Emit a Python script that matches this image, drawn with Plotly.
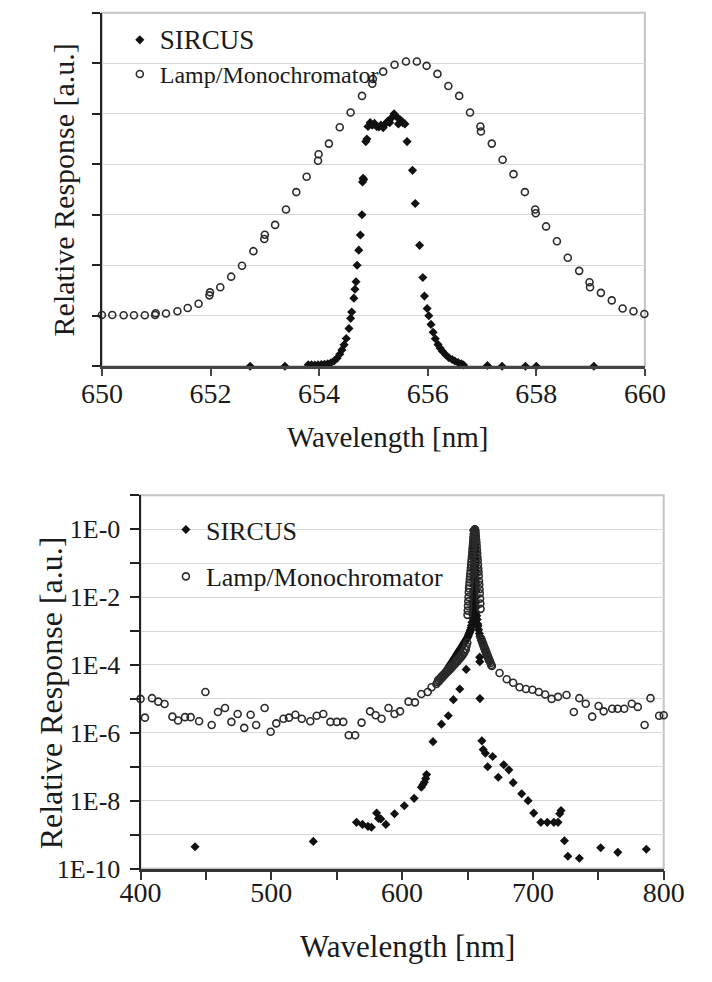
import plotly.graph_objects as go

SERIF = "Liberation Serif, 'Times New Roman', Times, serif"
INK = "#1a1a1a"

# ---------------- upper panel: 650-660 nm, linear response ----------------
top_sircus_nm = [
    652.73, 653.37, 653.80, 653.86, 653.92, 653.98, 654.04, 654.10, 654.16, 654.22,
    654.28, 654.33, 654.38, 654.42, 654.46, 654.50, 654.55, 654.58, 654.60, 654.64,
    654.66, 654.68, 654.70, 654.73, 654.76, 654.79, 654.80, 654.81, 654.82, 654.86,
    654.88, 654.90, 654.94, 654.98, 655.02, 655.06, 655.10, 655.14, 655.18, 655.22,
    655.26, 655.30, 655.34, 655.38, 655.42, 655.46, 655.50, 655.54, 655.58, 655.62,
    655.72, 655.77, 655.85, 655.91, 655.94, 655.99, 656.02, 656.06, 656.10, 656.14,
    656.19, 656.23, 656.27, 656.33, 656.39, 656.45, 656.50, 656.56, 656.62, 656.66,
    657.10, 657.37, 657.80, 658.00, 659.06,
]
top_sircus_val = [
    0.000, 0.000, 0.006, 0.006, 0.005, 0.006, 0.007, 0.008, 0.010, 0.014,
    0.022, 0.032, 0.048, 0.065, 0.085, 0.110, 0.150, 0.190, 0.215, 0.270,
    0.305, 0.335, 0.400, 0.460, 0.520, 0.600, 0.730, 0.745, 0.740, 0.890,
    0.900, 0.950, 0.965, 0.955, 0.962, 0.950, 0.948, 0.955, 0.945, 0.960,
    0.970, 0.965, 0.985, 1.000, 0.990, 0.960, 0.975, 0.965, 0.960, 0.890,
    0.776, 0.645, 0.479, 0.352, 0.278, 0.229, 0.200, 0.166, 0.135, 0.109,
    0.086, 0.072, 0.060, 0.046, 0.034, 0.027, 0.021, 0.015, 0.010, 0.005,
    0.003, 0.000, 0.000, 0.000, 0.000,
]

top_lamp_nm = [
    650.00, 650.19, 650.40, 650.59, 650.79, 650.98, 650.99, 651.18, 651.39, 651.58,
    651.78, 651.98, 651.99, 652.18, 652.38, 652.58, 652.79, 652.99, 653.00, 653.19,
    653.39, 653.58, 653.77, 653.98, 653.99, 654.18, 654.38, 654.58, 654.79, 654.98,
    654.99, 655.18, 655.39, 655.60, 655.80, 655.98, 656.18, 656.38, 656.58, 656.78,
    656.97, 656.98, 657.18, 657.38, 657.58, 657.79, 657.98, 657.99, 658.18, 658.38,
    658.58, 658.79, 658.98, 658.99, 659.19, 659.39, 659.59, 659.79, 659.99,
]
top_lamp_val = [
    0.203, 0.203, 0.202, 0.202, 0.202, 0.203, 0.210, 0.209, 0.218, 0.231,
    0.248, 0.281, 0.293, 0.313, 0.355, 0.398, 0.456, 0.504, 0.521, 0.560,
    0.621, 0.690, 0.751, 0.814, 0.840, 0.882, 0.947, 1.005, 1.071, 1.119,
    1.138, 1.167, 1.194, 1.207, 1.207, 1.190, 1.158, 1.110, 1.071, 1.005,
    0.950, 0.930, 0.882, 0.818, 0.761, 0.690, 0.621, 0.606, 0.554, 0.495,
    0.430, 0.378, 0.333, 0.313, 0.291, 0.261, 0.229, 0.218, 0.207,
]

top_x_ticks = [650, 652, 654, 656, 658, 660]
top_y_ticks = [0.0, 0.2, 0.4, 0.6, 0.8, 1.0, 1.2, 1.4]

# ---------------- lower panel: 400-800 nm, log response ----------------
bot_sircus_nm = [
    441.7, 532.1, 565.1, 569.7, 573.9, 576.5, 580.5, 582.0, 583.7, 587.6,
    594.2, 601.7, 609.2, 614.7, 616.0, 617.0, 618.0, 618.7, 623.6, 630.1,
    635.3, 639.2, 644.1, 649.0,
    # dense scan across the line
    630.0, 630.5, 631.0, 631.5, 632.0, 632.5, 633.0, 633.5, 634.0, 634.5,
    635.0, 635.5, 636.0, 636.5, 637.0, 637.5, 638.0, 638.5, 639.0, 639.5,
    640.0, 640.5, 641.0, 641.5, 642.0, 642.5, 643.0, 643.5, 644.0, 644.5,
    645.0, 645.5, 646.0, 646.5, 647.0, 647.5, 648.0, 648.5, 649.0, 649.5,
    650.0, 650.4, 650.8, 651.2, 651.6, 652.0, 652.4, 652.7, 653.0, 653.4,
    653.8, 653.86, 653.92, 653.98, 654.04, 654.10, 654.16, 654.22, 654.28, 654.33,
    654.38, 654.42, 654.46, 654.50, 654.55, 654.58, 654.60, 654.64, 654.66, 654.68,
    654.70, 654.73, 654.76, 654.79, 654.80, 654.82, 654.86, 654.88, 654.94, 655.02,
    655.10, 655.18, 655.26, 655.34, 655.38, 655.46, 655.54, 655.62, 655.72, 655.77,
    655.85, 655.91, 655.94, 655.99, 656.02, 656.06, 656.10, 656.14, 656.19, 656.23,
    656.27, 656.33, 656.39, 656.45, 656.50, 656.56, 656.62, 656.66, 656.7, 656.9,
    657.1, 657.4, 657.8, 658.0, 658.5, 659.06, 659.5, 660.0, 660.5, 661.0,
    661.5, 662.0, 662.5, 663.0, 663.5, 664.0, 664.5, 665.0, 665.5, 666.0,
    666.5, 667.0,
    659.3, 659.4, 659.5,
    661.0, 662.0, 663.7, 665.4, 669.2, 673.5, 677.7, 681.6, 684.9, 691.4,
    696.3, 700.6, 706.1, 711.0, 716.0, 719.2, 720.5, 721.5, 724.1, 726.7,
    735.5, 751.8, 764.9, 786.7,
]
bot_sircus_val = [
    4.4e-10, 6.3e-10, 2.3e-9, 2.0e-9, 1.75e-9, 1.65e-9, 4.3e-9, 3.0e-9, 2.9e-9, 2.0e-9,
    4.1e-9, 7.1e-9, 1.17e-8, 2.5e-8, 3.0e-8, 3.5e-8, 4.5e-8, 5.9e-8, 5.5e-7, 1.8e-6,
    3.2e-6, 9.5e-6, 1.95e-5, 7.4e-5,
    4.0e-5, 4.3e-5, 4.6e-5, 4.9e-5, 5.3e-5, 5.6e-5, 6.0e-5, 6.4e-5, 6.9e-5, 7.4e-5,
    7.9e-5, 8.5e-5, 9.1e-5, 9.8e-5, 1.05e-4, 1.12e-4, 1.2e-4, 1.29e-4, 1.38e-4, 1.48e-4,
    1.58e-4, 1.7e-4, 1.82e-4, 1.95e-4, 2.09e-4, 2.24e-4, 2.4e-4, 2.57e-4, 2.75e-4, 2.95e-4,
    3.16e-4, 3.4e-4, 3.65e-4, 3.9e-4, 4.2e-4, 4.5e-4, 4.8e-4, 5.2e-4, 5.6e-4, 6.0e-4,
    6.5e-4, 7.0e-4, 7.6e-4, 8.3e-4, 9.0e-4, 1.0e-3, 1.1e-3, 1.25e-3, 1.45e-3, 1.8e-3,
    2.4e-3, 3.0e-3, 3.6e-3, 4.3e-3, 5.2e-3, 6.3e-3, 7.6e-3, 1.0e-2, 1.5e-2, 2.2e-2,
    3.3e-2, 4.8e-2, 6.5e-2, 8.5e-2, 1.1e-1, 1.5e-1, 1.9e-1, 2.15e-1, 2.7e-1, 3.05e-1,
    3.35e-1, 4.0e-1, 4.6e-1, 5.2e-1, 6.0e-1, 7.4e-1, 8.9e-1, 9.0e-1, 9.65e-1, 9.6e-1,
    9.5e-1, 9.45e-1, 9.7e-1, 9.85e-1, 1.0, 9.6e-1, 9.65e-1, 8.9e-1, 7.76e-1, 6.45e-1,
    4.8e-1, 3.5e-1, 2.8e-1, 2.3e-1, 2.0e-1, 1.66e-1, 1.35e-1, 1.09e-1, 8.6e-2, 7.2e-2,
    6.0e-2, 4.6e-2, 3.4e-2, 2.7e-2, 2.1e-2, 1.5e-2, 1.0e-2, 7.0e-3, 5.0e-3, 3.5e-3,
    2.8e-3, 2.2e-3, 1.6e-3, 1.4e-3, 1.1e-3, 8.5e-4, 7.0e-4, 6.2e-4, 5.4e-4, 4.8e-4,
    4.2e-4, 3.7e-4, 3.3e-4, 2.9e-4, 2.6e-4, 2.3e-4, 2.0e-4, 1.8e-4, 1.6e-4, 1.45e-4,
    1.3e-4, 1.2e-4,
    1.7e-4, 1.25e-4, 1.02e-5,
    5.8e-7, 3.2e-7, 2.5e-7, 1.0e-7, 2.0e-7, 4.9e-8, 1.15e-7, 8.1e-8, 3.4e-8, 1.6e-8,
    1.0e-8, 4.3e-9, 2.3e-9, 2.3e-9, 2.3e-9, 2.3e-9, 4.1e-9, 5.1e-9, 6.6e-10, 2.3e-10,
    2.0e-10, 4.1e-10, 3.0e-10, 3.7e-10,
]

bot_lamp_nm = [
    400.0, 403.4, 408.8, 413.6, 418.4, 424.4, 428.7, 434.0, 438.3, 444.8,
    449.6, 454.4, 459.2, 464.6, 469.5, 474.3, 479.3, 484.2, 488.4, 494.9,
    499.5, 503.8, 509.3, 513.5, 518.4, 523.3, 529.8, 534.7, 539.7, 545.2,
    550.1, 555.0, 559.2, 564.1, 569.0, 575.5, 579.8, 584.3, 589.6, 594.2,
    598.4, 604.9, 609.8, 614.7, 619.6, 622.5, 626.2,
    627.0, 627.6, 628.2, 628.8, 629.4, 630.0, 630.6, 631.2, 631.8, 632.4,
    633.0, 633.6, 634.2, 634.8, 635.4, 636.0, 636.6, 637.2, 637.8, 638.4,
    639.0, 639.6, 640.2, 640.8, 641.4, 642.0, 642.6, 643.2, 643.8, 644.4,
    645.0, 645.6, 646.2, 646.8, 647.4, 648.0, 648.6, 649.2, 649.8,
    650.0, 650.2, 650.4, 650.6, 650.8, 651.0, 651.2, 651.4, 651.6, 651.8,
    652.0, 652.2, 652.4, 652.6, 652.8, 653.0, 653.2, 653.4, 653.6, 653.8,
    654.0, 654.2, 654.4, 654.6, 654.8, 655.0, 655.2, 655.4, 655.6, 655.8,
    656.0, 656.2, 656.4, 656.6, 656.8, 657.0, 657.2, 657.4, 657.6, 657.8,
    658.0, 658.2, 658.4, 658.6, 658.8, 659.0, 659.2, 659.4, 659.6, 659.8,
    660.0,
    660.4, 661.0, 661.6, 662.2, 662.8, 663.4, 664.0, 664.6, 665.2, 665.8,
    666.4, 667.0, 667.6, 668.2, 668.6,
    674.5, 680.0, 684.9, 689.8, 694.7, 699.6, 704.5, 709.4, 714.3, 719.2,
    725.7, 731.3, 735.5, 740.4, 745.3, 750.2, 754.1, 760.6, 764.8, 769.8,
    775.6, 780.2, 785.4, 789.9, 796.5, 800.0,
]
bot_lamp_val = [
    1.0e-5, 2.8e-6, 1.05e-5, 8.3e-6, 7.1e-6, 3.0e-6, 2.3e-6, 2.9e-6, 2.9e-6, 2.2e-6,
    1.6e-5, 1.7e-6, 4.1e-6, 5.4e-6, 2.1e-6, 3.6e-6, 1.4e-6, 3.4e-6, 1.7e-6, 5.4e-6,
    1.07e-6, 1.9e-6, 2.6e-6, 2.8e-6, 3.4e-6, 2.6e-6, 2.2e-6, 3.2e-6, 3.6e-6, 2.1e-6,
    2.1e-6, 2.1e-6, 8.5e-7, 8.5e-7, 2.0e-6, 4.3e-6, 3.3e-6, 2.6e-6, 5.4e-6, 3.6e-6,
    4.3e-6, 8.3e-6, 7.9e-6, 1.4e-5, 1.6e-5, 2.2e-5, 2.75e-5,
    3.1e-5, 3.6e-5, 3.3e-5, 4.0e-5, 3.8e-5, 4.5e-5, 4.2e-5, 5.0e-5, 4.8e-5, 5.6e-5,
    5.3e-5, 6.2e-5, 6.0e-5, 7.0e-5, 6.6e-5, 7.8e-5, 7.4e-5, 8.8e-5, 8.3e-5, 9.8e-5,
    9.3e-5, 1.1e-4, 1.05e-4, 1.25e-4, 1.18e-4, 1.4e-4, 1.32e-4, 1.58e-4, 1.5e-4, 1.8e-4,
    1.7e-4, 2.05e-4, 1.95e-4, 2.4e-4, 2.3e-4, 2.9e-4, 2.8e-4, 3.6e-4, 4.5e-4,
    3.0e-3, 4.0e-3, 5.5e-3, 7.5e-3, 1.0e-2, 1.4e-2, 1.8e-2, 2.2e-2, 2.7e-2, 3.3e-2,
    4.0e-2, 4.9e-2, 6.0e-2, 7.3e-2, 9.0e-2, 0.110, 0.130, 0.160, 0.200, 0.250,
    0.300, 0.370, 0.450, 0.550, 0.650, 0.750, 0.850, 0.940, 1.000, 0.970,
    0.860, 0.720, 0.600, 0.490, 0.400, 0.320, 0.250, 0.200, 0.150, 0.120,
    0.090, 0.070, 0.055, 0.042, 0.030, 0.023, 0.017, 0.013, 0.009, 0.0065,
    0.0045,
    6.0e-4, 5.2e-4, 4.5e-4, 4.0e-4, 3.4e-4, 3.0e-4, 2.6e-4, 2.3e-4, 2.0e-4, 1.7e-4,
    1.5e-4, 1.3e-4, 1.15e-4, 1.0e-4, 9.3e-5,
    5.8e-5, 3.8e-5, 3.0e-5, 2.2e-5, 1.95e-5, 1.85e-5, 1.6e-5, 1.35e-5, 1.0e-5, 1.15e-5,
    1.3e-5, 4.1e-6, 1.05e-5, 7.2e-6, 3.0e-6, 6.2e-6, 4.3e-6, 5.1e-6, 5.1e-6, 5.1e-6,
    7.2e-6, 5.8e-6, 1.7e-6, 1.05e-5, 3.2e-6, 3.3e-6,
]

bot_x_ticks = [400, 450, 500, 550, 600, 650, 700, 750, 800]
bot_x_text = ["400", "", "500", "", "600", "", "700", "", "800"]
bot_y_ticks = [1e-10, 1e-9, 1e-8, 1e-7, 1e-6, 1e-5, 1e-4, 1e-3, 1e-2, 1e-1, 1e0, 1e1]
bot_y_text = ["1E-10", "", "1E-8", "", "1E-6", "", "1E-4", "", "1E-2", "", "1E-0", ""]

SERIES = ["SIRCUS", "Lamp/Monochromator"]

W, H = 712, 982


def px_x(p):
    return p / W


def px_y(p):
    return 1 - p / H


diamond = dict(symbol="diamond", size=7, color="#111111", line=dict(width=0))
ring = dict(symbol="circle-open", size=7, color="#2b2b2b", line=dict(width=1.6))

fig = go.Figure()

fig.add_trace(go.Scatter(x=top_sircus_nm, y=top_sircus_val, mode="markers",
                         name='<span style="font-size:27px">' + SERIES[0] + "</span>",
                         marker=diamond, xaxis="x", yaxis="y", legend="legend",
                         legendgroup="a", cliponaxis=False))
fig.add_trace(go.Scatter(x=top_lamp_nm, y=top_lamp_val, mode="markers", name=SERIES[1],
                         marker=ring, xaxis="x", yaxis="y", legend="legend",
                         legendgroup="b", cliponaxis=False))
fig.add_trace(go.Scatter(x=bot_sircus_nm, y=bot_sircus_val, mode="markers", name=SERIES[0],
                         marker=diamond, xaxis="x2", yaxis="y2", legend="legend2",
                         legendgroup="c", cliponaxis=False))
fig.add_trace(go.Scatter(x=bot_lamp_nm, y=bot_lamp_val, mode="markers", name=SERIES[1],
                         marker=ring, xaxis="x2", yaxis="y2", legend="legend2",
                         legendgroup="d", cliponaxis=False))

grid = "#d8d8d8"

fig.update_layout(
    width=W, height=H,
    margin=dict(l=0, r=0, t=0, b=0),
    paper_bgcolor="white", plot_bgcolor="white",
    font=dict(family=SERIF, color=INK),
    xaxis=dict(domain=[px_x(86), px_x(663)], range=[650, 660], anchor="y",
               tickvals=top_x_ticks, ticks="outside", ticklen=7, tickwidth=1.5,
               tickcolor="#444", showline=True, linecolor="#444", linewidth=2.5,
               showgrid=False, zeroline=False,
               tickfont=dict(family=SERIF, size=28, color=INK), ticklabelstandoff=-7),
    yaxis=dict(domain=[px_y(372), px_y(13)], range=[0, 1.4], anchor="x",
               tickvals=top_y_ticks, showticklabels=False, ticks="outside", ticklen=8,
               tickwidth=1.5, tickcolor="#222", showline=True, linecolor="#222",
               linewidth=2, showgrid=True, gridcolor=grid, gridwidth=1.2, zeroline=False),
    xaxis2=dict(domain=[px_x(127), px_x(683)], range=[400, 800], anchor="y2",
                tickvals=bot_x_ticks, ticktext=bot_x_text, ticks="outside", ticklen=9,
                tickwidth=1.5, tickcolor="#333", showline=True, linecolor="#333",
                linewidth=2.5, showgrid=False, zeroline=False,
                tickfont=dict(family=SERIF, size=28, color=INK), ticklabelstandoff=-12),
    yaxis2=dict(domain=[px_y(882), px_y(503)], type="log", range=[-10, 1], anchor="x2",
                tickvals=bot_y_ticks, ticktext=bot_y_text, ticks="outside", ticklen=9,
                tickwidth=1.5, tickcolor="#222", showline=True, linecolor="#222",
                linewidth=2, showgrid=True, gridcolor=grid, gridwidth=1.2, zeroline=False,
                tickfont=dict(family=SERIF, size=26, color=INK), ticklabelstandoff=4),
    legend=dict(x=px_x(105), y=px_y(18), xanchor="left", yanchor="top",
                bgcolor="rgba(0,0,0,0)", font=dict(family=SERIF, size=24, color=INK),
                tracegroupgap=0, itemwidth=30, traceorder="grouped"),
    legend2=dict(x=px_x(154), y=px_y(514), xanchor="left", yanchor="top",
                 bgcolor="rgba(0,0,0,0)", font=dict(family=SERIF, size=26, color=INK),
                 tracegroupgap=10, itemwidth=30, traceorder="grouped"),
    showlegend=True,
)

# light frame around each plotting area (axis lines are drawn on top)
for xr, yr in (("x domain", "y domain"), ("x2 domain", "y2 domain")):
    fig.add_shape(type="rect", xref=xr, yref=yr, x0=0, x1=1, y0=0, y1=1,
                  line=dict(color="#c4c4c4", width=2), layer="below")

fig.add_annotation(text="Relative Response [a.u.]", x=px_x(45), y=px_y(193), xref="paper",
                   yref="paper", textangle=-90, showarrow=False,
                   font=dict(family=SERIF, size=30, color=INK),
                   xanchor="center", yanchor="middle")
fig.add_annotation(text="Wavelength [nm]", x=px_x(389), y=px_y(444), xref="paper",
                   yref="paper", showarrow=False, font=dict(family=SERIF, size=29, color=INK),
                   xanchor="center", yanchor="middle")
fig.add_annotation(text="Relative Response [a.u.]", x=px_x(32), y=px_y(704), xref="paper",
                   yref="paper", textangle=-90, showarrow=False,
                   font=dict(family=SERIF, size=32, color=INK),
                   xanchor="center", yanchor="middle")
fig.add_annotation(text="Wavelength [nm]", x=px_x(411), y=px_y(961), xref="paper",
                   yref="paper", showarrow=False, font=dict(family=SERIF, size=31, color=INK),
                   xanchor="center", yanchor="middle")

fig.write_html("out.html")
